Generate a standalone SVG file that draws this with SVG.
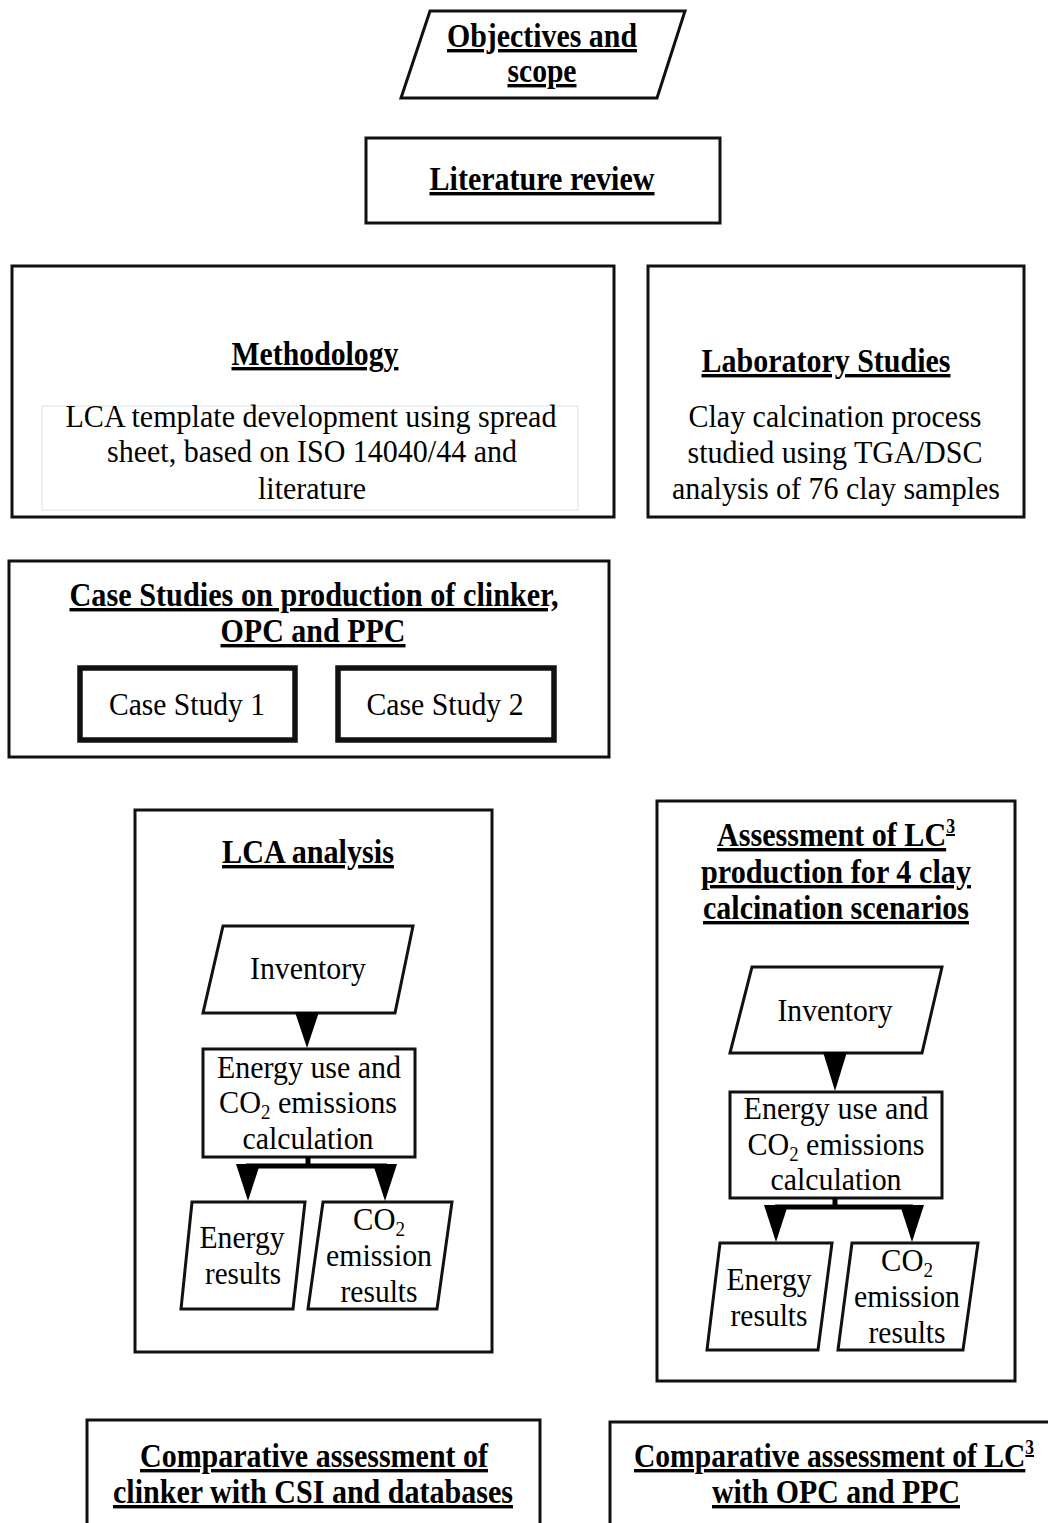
<svg xmlns="http://www.w3.org/2000/svg" width="1048" height="1523" viewBox="0 0 1048 1523">
<style>
.box{fill:#fff;stroke:#111;stroke-width:3}
.thick{fill:#fff;stroke:#111;stroke-width:5.5}
.faint{fill:none;stroke:#e6ecf3;stroke-width:1.5}
text{font-family:'Liberation Serif','Times New Roman',Times,serif;fill:#000;text-anchor:middle}
.t{font-size:34px;font-weight:bold;text-decoration:underline}
.n{font-size:32px}
.sub{font-size:20px}
.sup{font-size:20px}
.arr{fill:#000}
.ln{stroke:#000;stroke-width:5;fill:none}
</style>
<rect width="1048" height="1523" fill="#fff"/>
<g id="objectives">
<polygon class="box" points="430,11 685,11 657,98 401,98" stroke-width="3.5"/>
<text class="t" x="542" y="47" textLength="190" lengthAdjust="spacingAndGlyphs">Objectives and</text>
<text class="t" x="542" y="82" textLength="69" lengthAdjust="spacingAndGlyphs">scope</text>
</g>
<g id="literature">
<rect class="box" x="366" y="138" width="354" height="85"/>
<text class="t" x="542" y="190" textLength="225" lengthAdjust="spacingAndGlyphs">Literature review</text>
</g>
<g id="methodology">
<rect class="box" x="12" y="266" width="602" height="251" stroke-width="3.5"/>
<rect class="faint" x="42" y="406" width="536" height="104"/>
<text class="t" x="315" y="365" textLength="167" lengthAdjust="spacingAndGlyphs">Methodology</text>
<text class="n" x="311" y="427" textLength="491" lengthAdjust="spacingAndGlyphs">LCA template development using spread</text>
<text class="n" x="312" y="462" textLength="410" lengthAdjust="spacingAndGlyphs">sheet, based on ISO 14040/44 and</text>
<text class="n" x="312" y="499" textLength="108" lengthAdjust="spacingAndGlyphs">literature</text>
</g>
<g id="laboratory">
<rect class="box" x="648" y="266" width="376" height="251" stroke-width="3.5"/>
<text class="t" x="826" y="372" textLength="249" lengthAdjust="spacingAndGlyphs">Laboratory Studies</text>
<text class="n" x="835" y="427" textLength="293" lengthAdjust="spacingAndGlyphs">Clay calcination process</text>
<text class="n" x="835" y="463" textLength="295" lengthAdjust="spacingAndGlyphs">studied using TGA/DSC</text>
<text class="n" x="836" y="499" textLength="328" lengthAdjust="spacingAndGlyphs">analysis of 76 clay samples</text>
</g>
<g id="case-studies">
<rect class="box" x="9" y="561" width="600" height="196"/>
<text class="t" x="314" y="606" textLength="489" lengthAdjust="spacingAndGlyphs">Case Studies on production of clinker,</text>
<text class="t" x="313" y="642" textLength="185" lengthAdjust="spacingAndGlyphs">OPC and PPC</text>
</g>
<g id="case-study-1">
<rect class="thick" x="80" y="668" width="215" height="72"/>
<text class="n" x="187" y="715" textLength="156" lengthAdjust="spacingAndGlyphs">Case Study 1</text>
</g>
<g id="case-study-2">
<rect class="thick" x="338" y="668" width="216" height="72"/>
<text class="n" x="445" y="715" textLength="157" lengthAdjust="spacingAndGlyphs">Case Study 2</text>
</g>
<g id="lca-analysis">
<rect class="box" x="135" y="810" width="357" height="542"/>
<text class="t" x="308" y="863" textLength="172" lengthAdjust="spacingAndGlyphs">LCA analysis</text>
</g>
<g id="lca-inventory">
<polygon class="box" points="223,926 413,926 395,1013 203,1013"/>
<text class="n" x="308" y="979" textLength="116" lengthAdjust="spacingAndGlyphs">Inventory</text>
</g>
<g id="lca-calc">
<rect class="box" x="203" y="1049" width="212" height="108" stroke-width="3.5"/>
<text class="n" x="309" y="1078" textLength="184" lengthAdjust="spacingAndGlyphs">Energy use and</text>
<text class="n" x="308" y="1113" textLength="178" lengthAdjust="spacingAndGlyphs">CO<tspan class="sub" dy="6">2</tspan><tspan dy="-6"> emissions</tspan></text>
<text class="n" x="308" y="1149" textLength="131" lengthAdjust="spacingAndGlyphs">calculation</text>
</g>
<g id="lca-energy">
<polygon class="box" points="192,1202 305,1202 293,1309 181,1309" stroke-width="3.5"/>
<text class="n" x="242" y="1248" textLength="85" lengthAdjust="spacingAndGlyphs">Energy</text>
<text class="n" x="243" y="1284" textLength="76" lengthAdjust="spacingAndGlyphs">results</text>
</g>
<g id="lca-co2">
<polygon class="box" points="323,1202 452,1202 437,1309 308,1309" stroke-width="3.5"/>
<text class="n" x="379" y="1230" textLength="52" lengthAdjust="spacingAndGlyphs">CO<tspan class="sub" dy="6">2</tspan></text>
<text class="n" x="379" y="1266" textLength="106" lengthAdjust="spacingAndGlyphs">emission</text>
<text class="n" x="379" y="1302" textLength="77" lengthAdjust="spacingAndGlyphs">results</text>
</g>
<g id="assessment">
<rect class="box" x="657" y="801" width="358" height="580"/>
<text class="t" x="836" y="846" textLength="238" lengthAdjust="spacingAndGlyphs">Assessment of LC<tspan class="sup" dy="-13">3</tspan></text>
<text class="t" x="836" y="883" textLength="270" lengthAdjust="spacingAndGlyphs">production for 4 clay</text>
<text class="t" x="836" y="919" textLength="266" lengthAdjust="spacingAndGlyphs">calcination scenarios</text>
</g>
<g id="lc3-inventory">
<polygon class="box" points="752,967 942,967 922,1053 730,1053"/>
<text class="n" x="835" y="1021" textLength="115" lengthAdjust="spacingAndGlyphs">Inventory</text>
</g>
<g id="lc3-calc">
<rect class="box" x="730" y="1092" width="212" height="106" stroke-width="3.5"/>
<text class="n" x="836" y="1119" textLength="185" lengthAdjust="spacingAndGlyphs">Energy use and</text>
<text class="n" x="836" y="1155" textLength="177" lengthAdjust="spacingAndGlyphs">CO<tspan class="sub" dy="6">2</tspan><tspan dy="-6"> emissions</tspan></text>
<text class="n" x="836" y="1190" textLength="131" lengthAdjust="spacingAndGlyphs">calculation</text>
</g>
<g id="lc3-energy">
<polygon class="box" points="720,1243 832,1243 818,1350 707,1350" stroke-width="3.5"/>
<text class="n" x="769" y="1290" textLength="85" lengthAdjust="spacingAndGlyphs">Energy</text>
<text class="n" x="769" y="1326" textLength="77" lengthAdjust="spacingAndGlyphs">results</text>
</g>
<g id="lc3-co2">
<polygon class="box" points="852,1243 978,1243 963,1350 838,1350" stroke-width="3.5"/>
<text class="n" x="907" y="1271" textLength="52" lengthAdjust="spacingAndGlyphs">CO<tspan class="sub" dy="6">2</tspan></text>
<text class="n" x="907" y="1307" textLength="106" lengthAdjust="spacingAndGlyphs">emission</text>
<text class="n" x="907" y="1343" textLength="77" lengthAdjust="spacingAndGlyphs">results</text>
</g>
<g id="compare-clinker">
<rect class="box" x="87" y="1420" width="453" height="120" stroke-width="3.5"/>
<text class="t" x="314" y="1467" textLength="348" lengthAdjust="spacingAndGlyphs">Comparative assessment of</text>
<text class="t" x="313" y="1503" textLength="400" lengthAdjust="spacingAndGlyphs">clinker with CSI and databases</text>
</g>
<g id="compare-lc3">
<rect class="box" x="610" y="1422" width="460" height="120" stroke-width="3.5"/>
<text class="t" x="834" y="1467" textLength="400" lengthAdjust="spacingAndGlyphs">Comparative assessment of LC<tspan class="sup" dy="-13">3</tspan></text>
<text class="t" x="836" y="1503" textLength="248" lengthAdjust="spacingAndGlyphs">with OPC and PPC</text>
</g>
<g id="connectors">
<polygon class="arr" points="295,1012 319,1012 307,1048"/>
<polygon class="arr" points="823,1052 847,1052 835,1091"/>
<line class="ln" x1="308" y1="1157" x2="308" y2="1167"/>
<line class="ln" x1="246" y1="1166" x2="387" y2="1166"/>
<polygon class="arr" points="236,1164 260,1164 248,1201"/>
<polygon class="arr" points="373,1164 397,1164 385,1201"/>
<line class="ln" x1="835" y1="1198" x2="835" y2="1208"/>
<line class="ln" x1="775" y1="1207" x2="913" y2="1207"/>
<polygon class="arr" points="764,1205 788,1205 776,1242"/>
<polygon class="arr" points="900,1205 924,1205 912,1242"/>
</g>
</svg>
